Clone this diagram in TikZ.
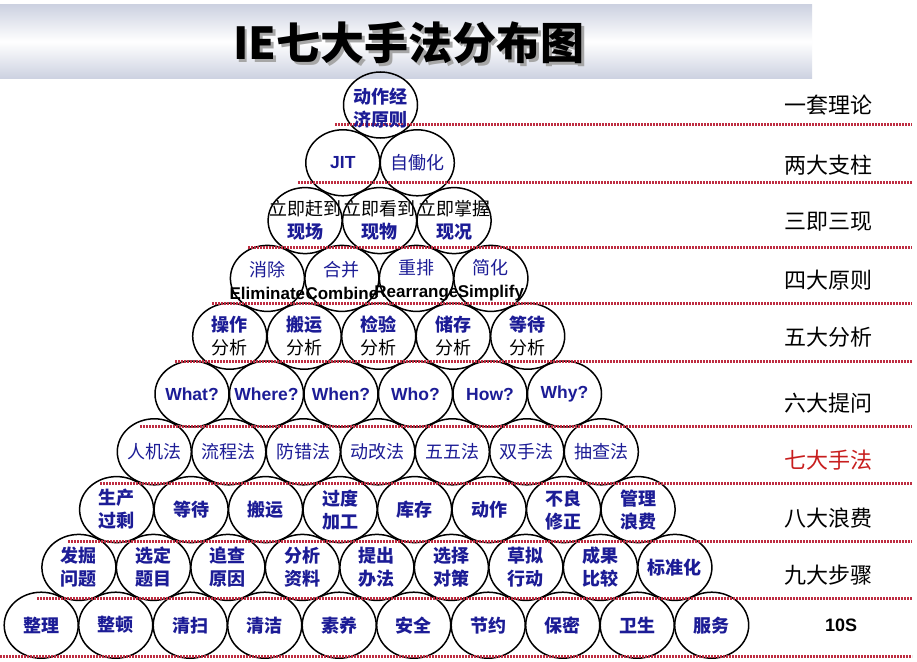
\documentclass[tikz,border=0pt]{standalone}
\usepackage{fontspec}
\setmainfont{Noto Sans CJK SC}
\newfontfamily\lsans{Liberation Sans}
\usetikzlibrary{shapes.geometric,calc}
\definecolor{ieblue}{RGB}{28,28,150}
\definecolor{iered}{RGB}{200,30,30}
\definecolor{dotred}{RGB}{190,45,65}
\definecolor{bandedge}{RGB}{205,210,225}
\begin{document}
\begin{tikzpicture}[x=1pt,y=-1pt,
 bub/.style={draw=black, ellipse, line width=1.5pt, minimum width=74pt, minimum height=66pt, inner sep=0pt},
 tx/.style={text=ieblue, align=center, inner sep=0pt, font=\fontsize{18}{23}\selectfont},
 txb/.style={text=ieblue, align=center, inner sep=0pt, font=\fontsize{18}{23}\selectfont\bfseries},
 lat/.style={text=ieblue, inner sep=0pt, font=\lsans\bfseries\fontsize{17.5}{20}\selectfont},
 dotline/.style={draw=dotred, line width=3pt, dash pattern=on 1.6pt off 1.4pt},
 lab/.style={text=black, inner sep=0pt, font=\fontsize{22}{26}\selectfont},
 ttl/.style={inner sep=0pt, font=\fontsize{44}{50}\selectfont\bfseries}
]
\useasboundingbox (0,0) rectangle (917,661);
\fill[white] (0,0) rectangle (917,661);
% title band
\shade[top color=bandedge, bottom color=bandedge, middle color=white] (0,5) rectangle (812,78);
\node[ttl, text=black!35] (ttlshadow) at (411.5,45.5) {IE七大手法分布图};
\node[ttl, text=black] (ttl) at (409,43) {IE七大手法分布图};
% bubbles
\foreach \n in {1,...,10} {
  \pgfmathsetmacro\yy{105+57.8*(\n-1)}
  \pgfmathsetmacro\cx{380.5-0.45*(\n-1)}
  \foreach \k in {1,...,\n} {
    \pgfmathsetmacro\xx{\cx+(\k-1-(\n-1)/2)*74.5}
    \node[bub] (b\n-\k) at (\xx,\yy) {};
  }
}
% dotted separators
\foreach \i/\ys/\xs in {1/124/335, 2/182/298, 3/247/248, 4/303/212, 5/361/175, 6/426/140, 7/483/100, 8/541/68, 9/598/37, 10/656/0} {
  \coordinate (ls\i) at (\xs,\ys);
  \coordinate (le\i) at (912,\ys);
  \draw[dotline] (ls\i) -- (le\i);
}
% row 1
\node[txb] (t1-1) at ($(b1-1)+(0,3)$) {动作经\\济原则};
% row 2
\node[lat] (t2-1) at (b2-1) {JIT};
\node[tx] (t2-2) at (b2-2) {自働化};
% row 3
\node[tx] (t3-1) at (b3-1) {{\color{black}立即赶到}\\\textbf{现场}};
\node[tx] (t3-2) at (b3-2) {{\color{black}立即看到}\\\textbf{现物}};
\node[tx] (t3-3) at (b3-3) {{\color{black}立即掌握}\\\textbf{现况}};
% row 4
\node[tx] (t4-1) at ($(b4-1)+(0,2)$) {消除\\{\lsans\bfseries\fontsize{17}{23}\selectfont\color{black}Eliminate}};
\node[tx] (t4-2) at ($(b4-2)+(0,2)$) {合并\\{\lsans\bfseries\fontsize{17}{23}\selectfont\color{black}Combine}};
\node[tx] (t4-3) at ($(b4-3)+(0,2)$) {重排\\{\lsans\bfseries\fontsize{17}{23}\selectfont\color{black}Rearrange}};
\node[tx] (t4-4) at ($(b4-4)+(0,2)$) {简化\\{\lsans\bfseries\fontsize{17}{23}\selectfont\color{black}Simplify}};
% row 5
\node[txb] (t5-1) at (b5-1) {操作\\{\mdseries\color{black}分析}};
\node[txb] (t5-2) at (b5-2) {搬运\\{\mdseries\color{black}分析}};
\node[txb] (t5-3) at (b5-3) {检验\\{\mdseries\color{black}分析}};
\node[txb] (t5-4) at (b5-4) {储存\\{\mdseries\color{black}分析}};
\node[txb] (t5-5) at (b5-5) {等待\\{\mdseries\color{black}分析}};
% row 6
\node[lat] (t6-1) at (b6-1) {What?};
\node[lat] (t6-2) at (b6-2) {Where?};
\node[lat] (t6-3) at (b6-3) {When?};
\node[lat] (t6-4) at (b6-4) {Who?};
\node[lat] (t6-5) at (b6-5) {How?};
\node[lat] (t6-6) at (b6-6) {Why?};
% row 7
\node[tx] (t7-1) at (b7-1) {人机法};
\node[tx] (t7-2) at (b7-2) {流程法};
\node[tx] (t7-3) at (b7-3) {防错法};
\node[tx] (t7-4) at (b7-4) {动改法};
\node[tx] (t7-5) at (b7-5) {五五法};
\node[tx] (t7-6) at (b7-6) {双手法};
\node[tx] (t7-7) at (b7-7) {抽查法};
% row 8
\node[txb] (t8-1) at (b8-1) {生产\\过剩};
\node[txb] (t8-2) at (b8-2) {等待};
\node[txb] (t8-3) at (b8-3) {搬运};
\node[txb] (t8-4) at (b8-4) {过度\\加工};
\node[txb] (t8-5) at (b8-5) {库存};
\node[txb] (t8-6) at (b8-6) {动作};
\node[txb] (t8-7) at (b8-7) {不良\\修正};
\node[txb] (t8-8) at (b8-8) {管理\\浪费};
% row 9
\node[txb] (t9-1) at (b9-1) {发掘\\问题};
\node[txb] (t9-2) at (b9-2) {选定\\题目};
\node[txb] (t9-3) at (b9-3) {追查\\原因};
\node[txb] (t9-4) at (b9-4) {分析\\资料};
\node[txb] (t9-5) at (b9-5) {提出\\办法};
\node[txb] (t9-6) at (b9-6) {选择\\对策};
\node[txb] (t9-7) at (b9-7) {草拟\\行动};
\node[txb] (t9-8) at (b9-8) {成果\\比较};
\node[txb] (t9-9) at (b9-9) {标准化};
% row 10
\node[txb] (t10-1) at (b10-1) {整理};
\node[txb] (t10-2) at (b10-2) {整顿};
\node[txb] (t10-3) at (b10-3) {清扫};
\node[txb] (t10-4) at (b10-4) {清洁};
\node[txb] (t10-5) at (b10-5) {素养};
\node[txb] (t10-6) at (b10-6) {安全};
\node[txb] (t10-7) at (b10-7) {节约};
\node[txb] (t10-8) at (b10-8) {保密};
\node[txb] (t10-9) at (b10-9) {卫生};
\node[txb] (t10-10) at (b10-10) {服务};
% right labels
\node[lab] (l1) at (828,105) {一套理论};
\node[lab] (l2) at (828,165) {两大支柱};
\node[lab] (l3) at (828,222) {三即三现};
\node[lab] (l4) at (828,280) {四大原则};
\node[lab] (l5) at (828,337) {五大分析};
\node[lab] (l6) at (828,403) {六大提问};
\node[lab, text=iered] (l7) at (828,460) {七大手法};
\node[lab] (l8) at (828,518) {八大浪费};
\node[lab] (l9) at (828,575) {九大步骤};
\node[inner sep=0pt, font=\lsans\bfseries\fontsize{18}{20}\selectfont] (l10) at (841,625) {10S};
\end{tikzpicture}
\end{document}
